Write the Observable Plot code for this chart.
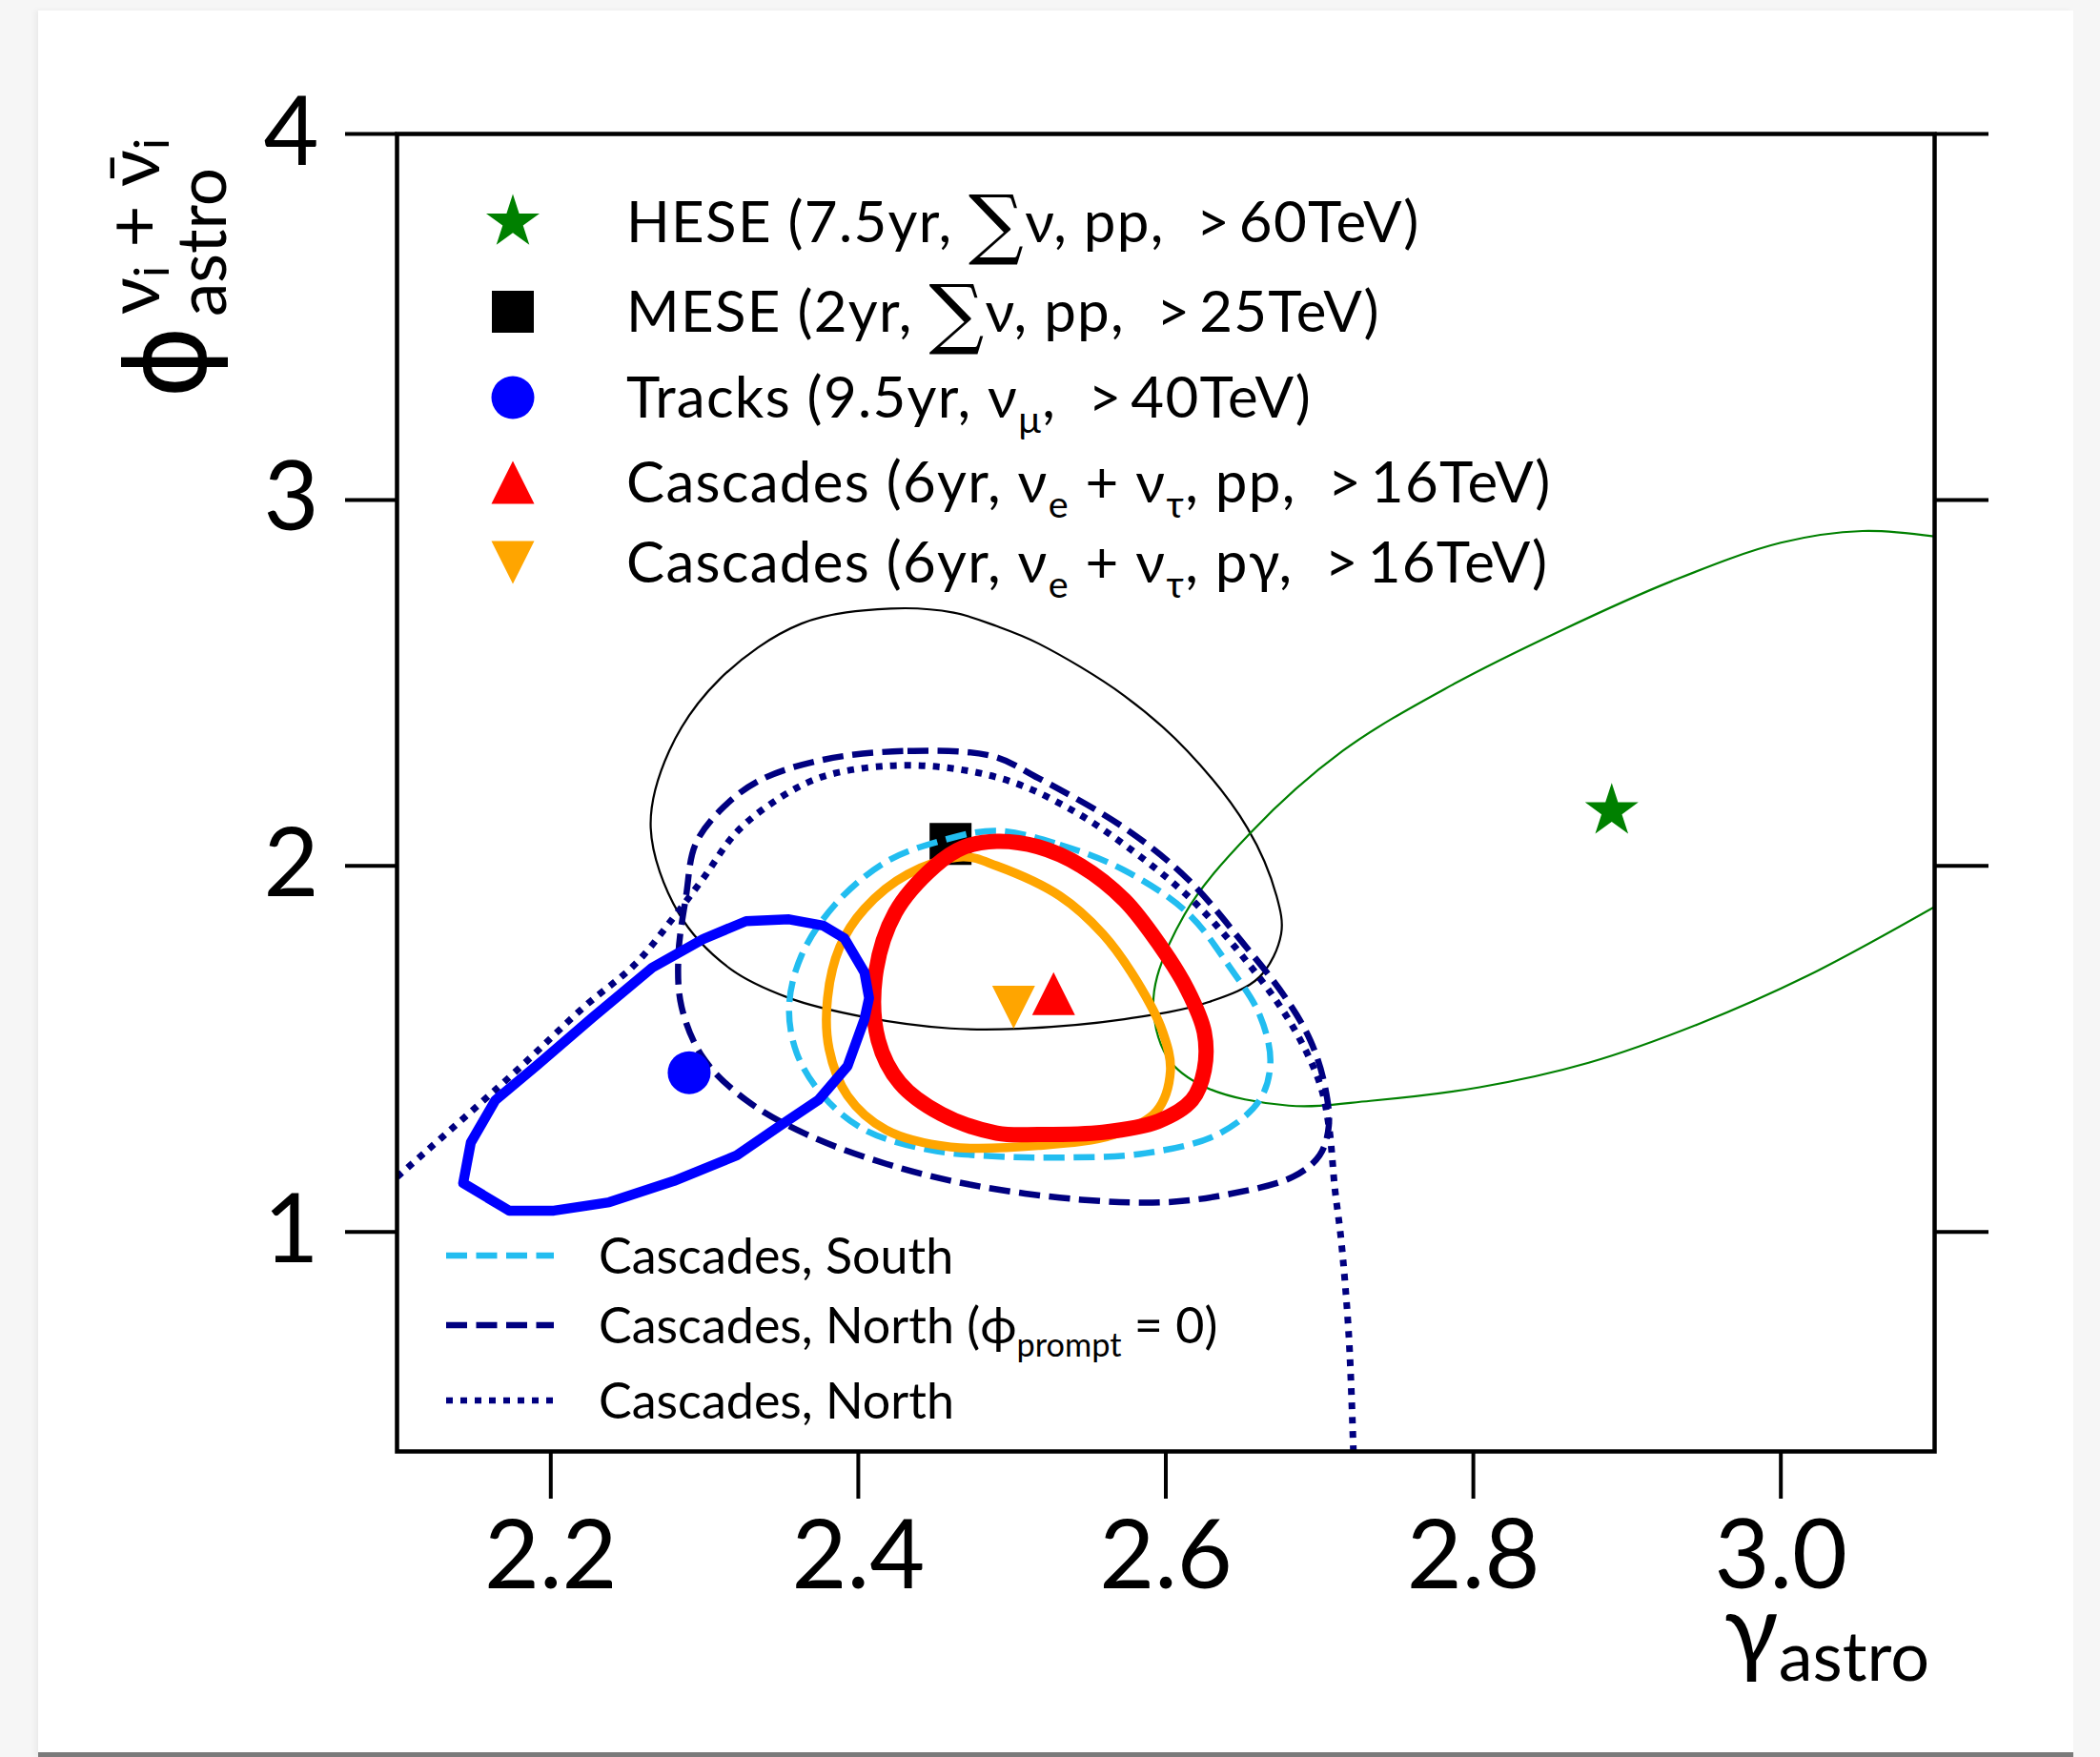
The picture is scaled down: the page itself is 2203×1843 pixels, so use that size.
<!DOCTYPE html>
<html><head><meta charset="utf-8">
<script src="https://cdn.jsdelivr.net/npm/d3@7"></script>
<script src="https://cdn.jsdelivr.net/npm/@observablehq/plot@0.6"></script>
<style>
html,body{margin:0;padding:0;background:#f6f6f6;width:2203px;height:1843px;overflow:hidden;}
#card{position:absolute;left:40px;top:11px;width:2135px;height:1827px;background:#fff;border-bottom:5px solid #7a7a7a;box-shadow:-3px 0 6px rgba(0,0,0,0.05);}
#chart{position:absolute;left:0;top:0;}
text{white-space:pre;}
</style></head><body><div id="card"></div><div id="chart"></div>
<script>
// ---------- data (gamma_astro, phi_astro) ----------
const xTicks = [2.2, 2.4, 2.6, 2.8, 3.0];
const yTicks = [1, 2, 3, 4];

// best-fit points
const heseBest = [[2.89, 2.15]];
const meseBest = [[2.46, 2.06]];
const tracksBest = [[2.29, 1.435]];
const cascPPBest = [[2.527, 1.651]];
const cascPGBest = [[2.501, 1.614]];

// contours
const meseContour = [[2.265,2.104],[2.277,2.314],[2.310,2.511],[2.363,2.662],[2.421,2.703],[2.462,2.692],[2.490,2.655],[2.517,2.608],[2.573,2.465],[2.614,2.314],[2.653,2.104],[2.672,1.918],[2.675,1.814],[2.661,1.697],[2.628,1.628],[2.573,1.581],[2.504,1.555],[2.460,1.556],[2.404,1.587],[2.355,1.639],[2.316,1.721],[2.283,1.872]];
const heseContour = [[3.100,2.900],[3.053,2.915],[3.000,2.883],[2.929,2.778],[2.857,2.643],[2.786,2.494],[2.715,2.314],[2.655,2.090],[2.612,1.866],[2.592,1.640],[2.601,1.477],[2.626,1.395],[2.680,1.345],[2.733,1.358],[2.804,1.395],[2.875,1.462],[2.946,1.567],[3.018,1.701],[3.100,1.888]];
const tracksContour = [[2.143,1.133],[2.148,1.244],[2.164,1.360],[2.191,1.455],[2.227,1.585],[2.266,1.722],[2.299,1.800],[2.327,1.849],[2.355,1.854],[2.377,1.837],[2.391,1.802],[2.404,1.709],[2.407,1.639],[2.404,1.581],[2.393,1.453],[2.374,1.360],[2.349,1.290],[2.321,1.209],[2.280,1.139],[2.238,1.081],[2.202,1.058],[2.173,1.058]];
const cascPPContour = [[2.490,2.067],[2.517,2.052],[2.545,2.000],[2.573,1.907],[2.595,1.790],[2.614,1.662],[2.625,1.546],[2.625,1.442],[2.617,1.360],[2.595,1.302],[2.559,1.272],[2.517,1.266],[2.490,1.270],[2.454,1.322],[2.427,1.407],[2.413,1.523],[2.411,1.697],[2.424,1.872],[2.450,2.000],[2.468,2.050]];
const cascPGContour = [[2.468,2.025],[2.490,2.000],[2.531,1.918],[2.559,1.814],[2.581,1.686],[2.598,1.546],[2.603,1.440],[2.594,1.330],[2.567,1.267],[2.517,1.236],[2.460,1.232],[2.418,1.279],[2.393,1.372],[2.381,1.500],[2.380,1.639],[2.388,1.779],[2.404,1.883],[2.432,1.977]];
const southContour = [[2.490,2.096],[2.531,2.058],[2.573,1.988],[2.614,1.872],[2.642,1.721],[2.661,1.593],[2.668,1.465],[2.661,1.360],[2.634,1.267],[2.587,1.215],[2.531,1.203],[2.487,1.207],[2.446,1.224],[2.404,1.279],[2.377,1.372],[2.360,1.488],[2.355,1.616],[2.363,1.755],[2.385,1.895],[2.418,2.011],[2.455,2.070]];
const northNoPromptContour = [[2.377,2.290],[2.432,2.314],[2.487,2.300],[2.517,2.240],[2.573,2.104],[2.614,1.965],[2.650,1.790],[2.678,1.639],[2.694,1.523],[2.703,1.407],[2.706,1.290],[2.700,1.209],[2.683,1.151],[2.642,1.104],[2.600,1.081],[2.545,1.088],[2.474,1.128],[2.418,1.186],[2.366,1.267],[2.327,1.360],[2.299,1.476],[2.285,1.616],[2.283,1.755],[2.288,1.918],[2.294,2.058],[2.310,2.151],[2.335,2.232]];
const northContour = [[2.100,1.150],[2.175,1.430],[2.222,1.616],[2.255,1.732],[2.280,1.860],[2.299,1.965],[2.321,2.093],[2.349,2.186],[2.377,2.244],[2.418,2.273],[2.460,2.267],[2.501,2.228],[2.540,2.150],[2.573,2.058],[2.617,1.907],[2.656,1.721],[2.683,1.558],[2.700,1.407],[2.706,1.290],[2.710,1.116],[2.714,0.979],[2.719,0.718],[2.722,0.400]];

// legend texts
const pointLegendLabels = [
  [["HESE (7.5yr, ","n"],["∑","big"],["ν, pp,  >\u200960TeV)","n"]],
  [["MESE (2yr, ","n"],["∑","big"],["ν, pp,  >\u200925TeV)","n"]],
  [["Tracks (9.5yr, ν","n"],["μ","sub"],[",  >\u200940TeV)","n"]],
  [["Cascades (6yr, ν","n"],["e","sub"],[" + ν","n"],["τ","sub"],[", pp,  >\u200916TeV)","n"]],
  [["Cascades (6yr, ν","n"],["e","sub"],[" + ν","n"],["τ","sub"],[", pγ,  >\u200916TeV)","n"]]
];
const lineLegendLabels = [
  [["Cascades, South","n"]],
  [["Cascades, North (ϕ","n"],["prompt","sub"],[" = 0)","n"]],
  [["Cascades, North","n"]]
];

// ---------- styling ----------
const F = "Lato, 'DejaVu Sans', sans-serif";
const C = {green:"#008000", black:"#000000", blue:"#0000ff", red:"#ff0000", orange:"#ffa500", cyan:"#22bdf0", navy:"#000080"};
const DASH = "22,9.5", DOT = "7,8";

const triUp = {draw(ctx, size){ const r = Math.sqrt(size/Math.PI); ctx.moveTo(0,-r); ctx.lineTo(r,r); ctx.lineTo(-r,r); ctx.closePath(); }};
const triDown = {draw(ctx, size){ const r = Math.sqrt(size/Math.PI); ctx.moveTo(0,r); ctx.lineTo(r,-r); ctx.lineTo(-r,-r); ctx.closePath(); }};
const sq = {draw(ctx, size){ const r = Math.sqrt(size/Math.PI); ctx.rect(-r,-r,2*r,2*r); }};

const X = d => d[0], Y = d => d[1];
const contour = (data, o) => Plot.line(data, {x: X, y: Y, clip: true, strokeLinejoin: "round", ...o});

const plot = Plot.plot({
  width: 2203, height: 1843,
  marginLeft: 416, marginRight: 174, marginTop: 140, marginBottom: 321,
  x: {domain: [2.1, 3.1]},
  y: {domain: [0.4, 4]},
  style: {background: "transparent", fontFamily: F, color: "black", overflow: "visible"},
  marks: [
    contour(meseContour, {stroke: C.black, strokeWidth: 2.2, curve: "catmull-rom-closed"}),
    contour(heseContour, {stroke: C.green, strokeWidth: 2.2, curve: "catmull-rom"}),
    Plot.dot(meseBest, {x: X, y: Y, symbol: sq, r: 22, fill: C.black}),
    contour(northContour, {stroke: C.navy, strokeWidth: 7, strokeDasharray: DOT, strokeLinecap: "butt", curve: "catmull-rom"}),
    contour(northNoPromptContour, {stroke: C.navy, strokeWidth: 6.5, strokeDasharray: DASH, strokeLinecap: "butt", curve: "catmull-rom-closed"}),
    contour(southContour, {stroke: C.cyan, strokeWidth: 6.5, strokeDasharray: DASH, strokeLinecap: "butt", curve: "catmull-rom-closed"}),
    contour(cascPGContour, {stroke: C.orange, strokeWidth: 9.5, curve: "catmull-rom-closed"}),
    contour(cascPPContour, {stroke: C.red, strokeWidth: 16, curve: "catmull-rom-closed"}),
    contour(tracksContour, {stroke: C.blue, strokeWidth: 10.5, curve: "linear-closed"}),
    Plot.dot(heseBest, {x: X, y: Y, symbol: "star", r: 17.6, fill: C.green}),
    Plot.dot(tracksBest, {x: X, y: Y, symbol: "circle", r: 22.5, fill: C.blue}),
    Plot.dot(cascPGBest, {x: X, y: Y, symbol: triDown, r: 22.5, fill: C.orange}),
    Plot.dot(cascPPBest, {x: X, y: Y, symbol: triUp, r: 22.5, fill: C.red}),
    Plot.frame({stroke: "black", strokeWidth: 4.5}),
    Plot.axisX({ticks: xTicks, tickSize: 50, tickPadding: 22, tickFormat: d3.format(".1f"), fontSize: 100, strokeWidth: 4, label: null}),
    Plot.axisY({ticks: yTicks, tickSize: 54, tickPadding: 28, tickFormat: d3.format("d"), fontSize: 100, strokeWidth: 4, label: null}),
    Plot.axisY({anchor: "right", ticks: yTicks, tickSize: 56, tickFormat: () => "", strokeWidth: 4, label: null})
  ]
});
document.getElementById("chart").append(plot);

// ---------- labels and legends ----------
const svg = d3.select(plot);

function richText(parent, x, y, parts, size, spacing = 0) {
  const t = parent.append("text").attr("x", x).attr("y", y).attr("font-size", size)
    .attr("font-family", F).attr("fill", "black").attr("text-anchor", "start")
    .attr("letter-spacing", spacing);
  let shift = 0;
  for (const [str, kind] of parts) {
    const target = kind === "sub" ? 0.27 * size : kind === "big" ? 0.14 * size : 0;
    const ts = t.append("tspan").attr("dy", target - shift).text(str);
    shift = target;
    if (kind === "sub") ts.attr("font-size", 0.66 * size);
    if (kind === "big") ts.attr("font-size", 1.35 * size).attr("font-family", "'DejaVu Serif', serif");
  }
  return t;
}

// point legend
const pointSymbols = [
  {type: d3.symbolStar, r: 17.6, color: C.green},
  {type: sq, r: 22, color: C.black},
  {type: d3.symbolCircle, r: 22.5, color: C.blue},
  {type: triUp, r: 22.5, color: C.red},
  {type: triDown, r: 22.5, color: C.orange}
];
const pointRows = [233, 327, 417, 506, 590];
pointSymbols.forEach((s, i) => {
  svg.append("path").attr("transform", `translate(538,${pointRows[i]})`)
    .attr("d", d3.symbol(s.type, Math.PI * s.r * s.r)()).attr("fill", s.color);
  richText(svg, 657, pointRows[i] + 21, pointLegendLabels[i], 60, 1.3);
});

// line legend
const lineStyles = [
  {color: C.cyan, dash: DASH},
  {color: C.navy, dash: DASH},
  {color: C.navy, dash: DOT}
];
const lineRows = [1317, 1390, 1469];
lineStyles.forEach((s, i) => {
  svg.append("line").attr("x1", 468).attr("x2", 581).attr("y1", lineRows[i]).attr("y2", lineRows[i])
    .attr("stroke", s.color).attr("stroke-width", 6.5).attr("stroke-dasharray", s.dash);
  richText(svg, 628, lineRows[i] + 19, lineLegendLabels[i], 52);
});

// x label: gamma_astro
const xl = svg.append("text").attr("x", 2024).attr("y", 1746).attr("text-anchor", "end")
  .attr("font-family", F).attr("fill", "black");
xl.append("tspan").attr("font-size", 105).text("γ");
xl.append("tspan").attr("font-size", 72).attr("dy", 17).text("astro");

// y label: phi_astro^{nu_i + nubar_i}
const yl = svg.append("g").attr("transform", "translate(215,418) rotate(-90)")
  .attr("font-family", F).attr("fill", "black").attr("text-anchor", "start");
yl.append("text").attr("x", 0).attr("y", 0).attr("font-size", 116)
  .attr("font-family", "'DejaVu Sans', sans-serif").text("ϕ");
yl.append("text").attr("x", 86).attr("y", 22).attr("font-size", 71).text("astro");
const sup = yl.append("text").attr("x", 88).attr("y", -48).attr("font-size", 76);
sup.append("tspan").text("ν");
sup.append("tspan").attr("font-size", 50).attr("dy", 10).text("i");
sup.append("tspan").attr("dy", -10).text(" + ");
sup.append("tspan").text("ν\u0304");
sup.append("tspan").attr("font-size", 50).attr("dy", 10).text("i");
</script></body></html>
